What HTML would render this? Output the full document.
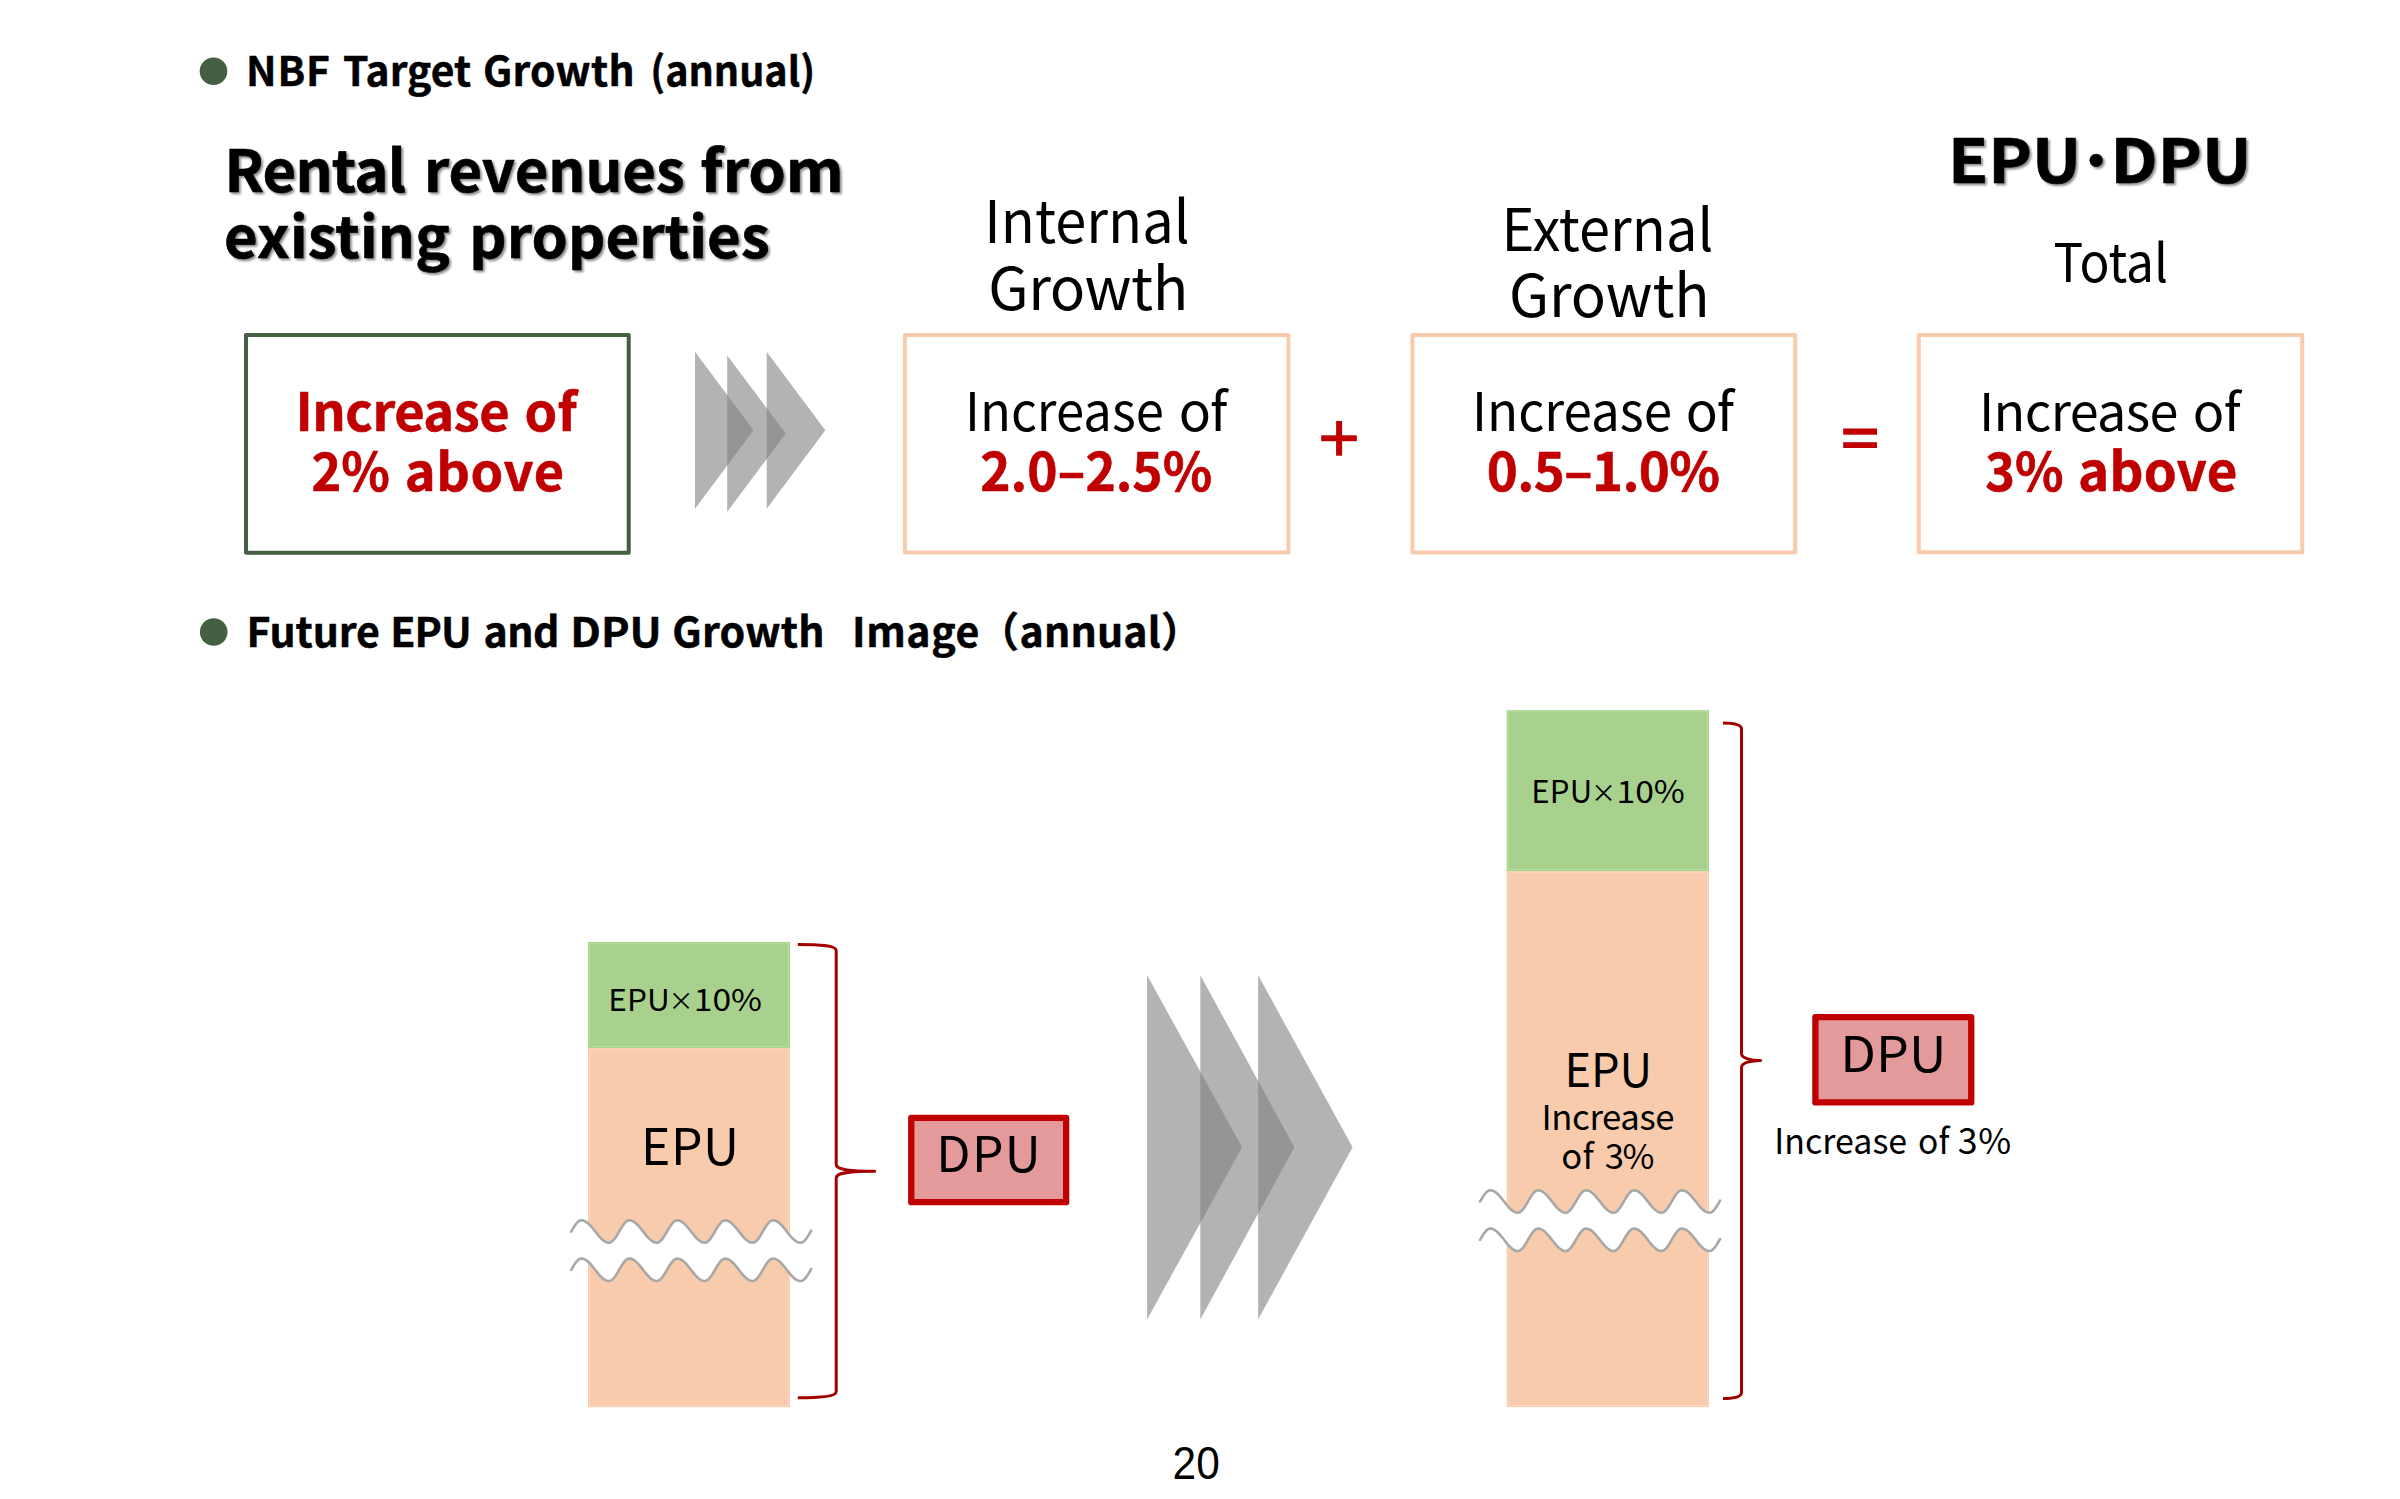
<!DOCTYPE html>
<html lang="en"><head><meta charset="utf-8"><title>NBF Target Growth</title>
<style>html,body{margin:0;padding:0;background:#fff;}body{width:2400px;height:1499px;overflow:hidden;}svg{display:block;}</style>
</head><body>
<svg width="2400" height="1499" viewBox="0 0 2400 1499" font-family="'Noto Sans CJK JP', 'Liberation Sans', sans-serif"><defs><filter id="sh" x="-5%" y="-20%" width="110%" height="150%"><feGaussianBlur in="SourceAlpha" stdDeviation="1.2"/><feOffset dx="2.4" dy="2.4" result="b"/><feComponentTransfer><feFuncA type="linear" slope="0.45"/></feComponentTransfer><feMerge><feMergeNode/><feMergeNode in="SourceGraphic"/></feMerge></filter></defs><circle cx="213.5" cy="71.3" r="13.8" fill="#445f41"/>
<circle cx="213.7" cy="632" r="13.8" fill="#445f41"/>
<rect x="246" y="335" width="382.7" height="217.7" fill="#fff" stroke="#445f41" stroke-width="4" stroke-linejoin="round"/>
<rect x="904.9" y="335" width="383.6" height="217.6" fill="#fff" stroke="#f8cbad" stroke-width="4" stroke-linejoin="round"/>
<rect x="1412.4" y="335" width="382.8" height="217.6" fill="#fff" stroke="#f8cbad" stroke-width="4" stroke-linejoin="round"/>
<rect x="1918.8" y="335" width="383.5" height="217.2" fill="#fff" stroke="#f8cbad" stroke-width="4" stroke-linejoin="round"/>
<g fill="#808080" fill-opacity="0.6"><polygon points="695,351.8 753.5,430.3 695,508.8"/><polygon points="727.2,355.4 785.7,433.6 727.2,511.8"/><polygon points="766.7,351.8 825.3,430.3 766.7,508.8"/></g>
<g fill="#c00000"><rect x="1321.2" y="435.3" width="35.6" height="5.9"/><rect x="1336.1" y="421" width="6" height="34.7"/><rect x="1843.2" y="428.5" width="33.8" height="6.2"/><rect x="1843.2" y="442.2" width="33.8" height="5.8"/></g>
<rect x="588" y="942" width="202" height="106" fill="#a9d18e"/><rect x="589.5" y="943.5" width="199" height="103" fill="none" stroke="#b4df9a" stroke-width="1.2"/>
<rect x="588" y="1048" width="202" height="359.2" fill="#f8cbad"/><rect x="589.5" y="1049.5" width="199" height="356.2" fill="none" stroke="#fbd6bb" stroke-width="1.2"/>
<rect x="1506.6" y="710.2" width="202.4" height="161" fill="#a9d18e"/><rect x="1508.1" y="711.7" width="199.4" height="158" fill="none" stroke="#b4df9a" stroke-width="1.2"/>
<rect x="1506.6" y="871.2" width="202.4" height="535.9" fill="#f8cbad"/><rect x="1508.1" y="872.7" width="199.4" height="532.9" fill="none" stroke="#fbd6bb" stroke-width="1.2"/>
<path d="M571.2,1231.59 L572.2,1229.86 L573.2,1228.17 L574.2,1226.56 L575.2,1225.07 L576.2,1223.74 L577.2,1222.58 L578.2,1221.65 L579.2,1220.94 L580.2,1220.49 L581.2,1220.31 L582.2,1220.35 L583.2,1220.53 L584.2,1220.86 L585.2,1221.33 L586.2,1221.93 L587.2,1222.65 L588.2,1223.49 L589.2,1224.43 L590.2,1225.46 L591.2,1226.57 L592.2,1227.75 L593.2,1228.97 L594.2,1230.23 L595.2,1231.5 L596.2,1232.77 L597.2,1234.03 L598.2,1235.25 L599.2,1236.43 L600.2,1237.54 L601.2,1238.57 L602.2,1239.51 L603.2,1240.35 L604.2,1241.07 L605.2,1241.67 L606.2,1242.14 L607.2,1242.47 L608.2,1242.65 L609.2,1242.69 L610.2,1242.51 L611.2,1242.06 L612.2,1241.35 L613.2,1240.42 L614.2,1239.26 L615.2,1237.93 L616.2,1236.44 L617.2,1234.83 L618.2,1233.14 L619.2,1231.41 L620.2,1229.69 L621.2,1228.01 L622.2,1226.41 L623.2,1224.93 L624.2,1223.61 L625.2,1222.48 L626.2,1221.56 L627.2,1220.89 L628.2,1220.46 L629.2,1220.3 L630.2,1220.36 L631.2,1220.56 L632.2,1220.9 L633.2,1221.39 L634.2,1222 L635.2,1222.73 L636.2,1223.58 L637.2,1224.53 L638.2,1225.57 L639.2,1226.69 L640.2,1227.87 L641.2,1229.1 L642.2,1230.35 L643.2,1231.63 L644.2,1232.9 L645.2,1234.15 L646.2,1235.37 L647.2,1236.54 L648.2,1237.64 L649.2,1238.67 L650.2,1239.6 L651.2,1240.42 L652.2,1241.14 L653.2,1241.72 L654.2,1242.18 L655.2,1242.49 L656.2,1242.66 L657.2,1242.69 L658.2,1242.47 L659.2,1242 L660.2,1241.27 L661.2,1240.31 L662.2,1239.14 L663.2,1237.79 L664.2,1236.28 L665.2,1234.66 L666.2,1232.97 L667.2,1231.24 L668.2,1229.52 L669.2,1227.84 L670.2,1226.25 L671.2,1224.79 L672.2,1223.49 L673.2,1222.38 L674.2,1221.49 L675.2,1220.83 L676.2,1220.43 L677.2,1220.3 L678.2,1220.37 L679.2,1220.59 L680.2,1220.95 L681.2,1221.44 L682.2,1222.07 L683.2,1222.81 L684.2,1223.67 L685.2,1224.63 L686.2,1225.68 L687.2,1226.81 L688.2,1227.99 L689.2,1229.22 L690.2,1230.48 L691.2,1231.75 L692.2,1233.03 L693.2,1234.28 L694.2,1235.49 L695.2,1236.65 L696.2,1237.75 L697.2,1238.76 L698.2,1239.69 L699.2,1240.5 L700.2,1241.2 L701.2,1241.77 L702.2,1242.21 L703.2,1242.51 L704.2,1242.67 L705.2,1242.68 L706.2,1242.44 L707.2,1241.94 L708.2,1241.19 L709.2,1240.2 L710.2,1239.01 L711.2,1237.64 L712.2,1236.12 L713.2,1234.5 L714.2,1232.8 L715.2,1231.07 L716.2,1229.35 L717.2,1227.68 L718.2,1226.1 L719.2,1224.65 L720.2,1223.37 L721.2,1222.28 L722.2,1221.41 L723.2,1220.78 L724.2,1220.41 L725.2,1220.3 L726.2,1220.39 L727.2,1220.62 L728.2,1220.99 L729.2,1221.5 L730.2,1222.13 L731.2,1222.89 L732.2,1223.76 L733.2,1224.73 L734.2,1225.79 L735.2,1226.92 L736.2,1228.11 L737.2,1229.35 L738.2,1230.61 L739.2,1231.88 L740.2,1233.15 L741.2,1234.4 L742.2,1235.61 L743.2,1236.77 L744.2,1237.85 L745.2,1238.86 L746.2,1239.77 L747.2,1240.58 L748.2,1241.26 L749.2,1241.82 L750.2,1242.25 L751.2,1242.54 L752.2,1242.68 L753.2,1242.67 L754.2,1242.4 L755.2,1241.87 L756.2,1241.1 L757.2,1240.09 L758.2,1238.88 L759.2,1237.5 L760.2,1235.97 L761.2,1234.33 L762.2,1232.62 L763.2,1230.89 L764.2,1229.18 L765.2,1227.52 L766.2,1225.95 L767.2,1224.52 L768.2,1223.25 L769.2,1222.18 L770.2,1221.34 L771.2,1220.73 L772.2,1220.39 L773.2,1220.3 L774.2,1220.4 L775.2,1220.65 L776.2,1221.03 L777.2,1221.56 L778.2,1222.21 L779.2,1222.98 L780.2,1223.86 L781.2,1224.83 L782.2,1225.9 L783.2,1227.04 L784.2,1228.23 L785.2,1229.47 L786.2,1230.74 L787.2,1232.01 L788.2,1233.28 L789.2,1234.52 L790.2,1235.73 L791.2,1236.88 L792.2,1237.96 L793.2,1238.96 L794.2,1239.86 L795.2,1240.65 L796.2,1241.32 L797.2,1241.87 L798.2,1242.28 L799.2,1242.56 L800.2,1242.69 L801.2,1242.65 L802.2,1242.36 L803.2,1241.81 L804.2,1241.01 L805.2,1239.98 L806.2,1238.75 L807.2,1237.35 L808.2,1235.81 L809.2,1234.16 L810.2,1232.45 L811.2,1230.72 L811.2,1269.02 L810.2,1270.75 L809.2,1272.46 L808.2,1274.11 L807.2,1275.65 L806.2,1277.05 L805.2,1278.28 L804.2,1279.31 L803.2,1280.11 L802.2,1280.66 L801.2,1280.95 L800.2,1280.99 L799.2,1280.86 L798.2,1280.58 L797.2,1280.17 L796.2,1279.62 L795.2,1278.95 L794.2,1278.16 L793.2,1277.26 L792.2,1276.26 L791.2,1275.18 L790.2,1274.03 L789.2,1272.82 L788.2,1271.58 L787.2,1270.31 L786.2,1269.04 L785.2,1267.77 L784.2,1266.53 L783.2,1265.34 L782.2,1264.2 L781.2,1263.13 L780.2,1262.16 L779.2,1261.28 L778.2,1260.51 L777.2,1259.86 L776.2,1259.33 L775.2,1258.95 L774.2,1258.7 L773.2,1258.6 L772.2,1258.69 L771.2,1259.03 L770.2,1259.64 L769.2,1260.48 L768.2,1261.55 L767.2,1262.82 L766.2,1264.25 L765.2,1265.82 L764.2,1267.48 L763.2,1269.19 L762.2,1270.92 L761.2,1272.63 L760.2,1274.27 L759.2,1275.8 L758.2,1277.18 L757.2,1278.39 L756.2,1279.4 L755.2,1280.17 L754.2,1280.7 L753.2,1280.97 L752.2,1280.98 L751.2,1280.84 L750.2,1280.55 L749.2,1280.12 L748.2,1279.56 L747.2,1278.88 L746.2,1278.07 L745.2,1277.16 L744.2,1276.15 L743.2,1275.07 L742.2,1273.91 L741.2,1272.7 L740.2,1271.45 L739.2,1270.18 L738.2,1268.91 L737.2,1267.65 L736.2,1266.41 L735.2,1265.22 L734.2,1264.09 L733.2,1263.03 L732.2,1262.06 L731.2,1261.19 L730.2,1260.43 L729.2,1259.8 L728.2,1259.29 L727.2,1258.92 L726.2,1258.69 L725.2,1258.6 L724.2,1258.71 L723.2,1259.08 L722.2,1259.71 L721.2,1260.58 L720.2,1261.67 L719.2,1262.95 L718.2,1264.4 L717.2,1265.98 L716.2,1267.65 L715.2,1269.37 L714.2,1271.1 L713.2,1272.8 L712.2,1274.42 L711.2,1275.94 L710.2,1277.31 L709.2,1278.5 L708.2,1279.49 L707.2,1280.24 L706.2,1280.74 L705.2,1280.98 L704.2,1280.97 L703.2,1280.81 L702.2,1280.51 L701.2,1280.07 L700.2,1279.5 L699.2,1278.8 L698.2,1277.99 L697.2,1277.06 L696.2,1276.05 L695.2,1274.95 L694.2,1273.79 L693.2,1272.58 L692.2,1271.33 L691.2,1270.05 L690.2,1268.78 L689.2,1267.52 L688.2,1266.29 L687.2,1265.11 L686.2,1263.98 L685.2,1262.93 L684.2,1261.97 L683.2,1261.11 L682.2,1260.37 L681.2,1259.74 L680.2,1259.25 L679.2,1258.89 L678.2,1258.67 L677.2,1258.6 L676.2,1258.73 L675.2,1259.13 L674.2,1259.79 L673.2,1260.68 L672.2,1261.79 L671.2,1263.09 L670.2,1264.55 L669.2,1266.14 L668.2,1267.82 L667.2,1269.54 L666.2,1271.27 L665.2,1272.96 L664.2,1274.58 L663.2,1276.09 L662.2,1277.44 L661.2,1278.61 L660.2,1279.57 L659.2,1280.3 L658.2,1280.77 L657.2,1280.99 L656.2,1280.96 L655.2,1280.79 L654.2,1280.48 L653.2,1280.02 L652.2,1279.44 L651.2,1278.72 L650.2,1277.9 L649.2,1276.97 L648.2,1275.94 L647.2,1274.84 L646.2,1273.67 L645.2,1272.45 L644.2,1271.2 L643.2,1269.93 L642.2,1268.65 L641.2,1267.4 L640.2,1266.17 L639.2,1264.99 L638.2,1263.87 L637.2,1262.83 L636.2,1261.88 L635.2,1261.03 L634.2,1260.3 L633.2,1259.69 L632.2,1259.2 L631.2,1258.86 L630.2,1258.66 L629.2,1258.6 L628.2,1258.76 L627.2,1259.19 L626.2,1259.86 L625.2,1260.78 L624.2,1261.91 L623.2,1263.23 L622.2,1264.71 L621.2,1266.31 L620.2,1267.99 L619.2,1269.71 L618.2,1271.44 L617.2,1273.13 L616.2,1274.74 L615.2,1276.23 L614.2,1277.56 L613.2,1278.72 L612.2,1279.65 L611.2,1280.36 L610.2,1280.81 L609.2,1280.99 L608.2,1280.95 L607.2,1280.77 L606.2,1280.44 L605.2,1279.97 L604.2,1279.37 L603.2,1278.65 L602.2,1277.81 L601.2,1276.87 L600.2,1275.84 L599.2,1274.73 L598.2,1273.55 L597.2,1272.33 L596.2,1271.07 L595.2,1269.8 L594.2,1268.53 L593.2,1267.27 L592.2,1266.05 L591.2,1264.87 L590.2,1263.76 L589.2,1262.73 L588.2,1261.79 L587.2,1260.95 L586.2,1260.23 L585.2,1259.63 L584.2,1259.16 L583.2,1258.83 L582.2,1258.65 L581.2,1258.61 L580.2,1258.79 L579.2,1259.24 L578.2,1259.95 L577.2,1260.88 L576.2,1262.04 L575.2,1263.37 L574.2,1264.86 L573.2,1266.47 L572.2,1268.16 L571.2,1269.89 Z" fill="#fff"/><path d="M571.2,1231.59 L572.2,1229.86 L573.2,1228.17 L574.2,1226.56 L575.2,1225.07 L576.2,1223.74 L577.2,1222.58 L578.2,1221.65 L579.2,1220.94 L580.2,1220.49 L581.2,1220.31 L582.2,1220.35 L583.2,1220.53 L584.2,1220.86 L585.2,1221.33 L586.2,1221.93 L587.2,1222.65 L588.2,1223.49 L589.2,1224.43 L590.2,1225.46 L591.2,1226.57 L592.2,1227.75 L593.2,1228.97 L594.2,1230.23 L595.2,1231.5 L596.2,1232.77 L597.2,1234.03 L598.2,1235.25 L599.2,1236.43 L600.2,1237.54 L601.2,1238.57 L602.2,1239.51 L603.2,1240.35 L604.2,1241.07 L605.2,1241.67 L606.2,1242.14 L607.2,1242.47 L608.2,1242.65 L609.2,1242.69 L610.2,1242.51 L611.2,1242.06 L612.2,1241.35 L613.2,1240.42 L614.2,1239.26 L615.2,1237.93 L616.2,1236.44 L617.2,1234.83 L618.2,1233.14 L619.2,1231.41 L620.2,1229.69 L621.2,1228.01 L622.2,1226.41 L623.2,1224.93 L624.2,1223.61 L625.2,1222.48 L626.2,1221.56 L627.2,1220.89 L628.2,1220.46 L629.2,1220.3 L630.2,1220.36 L631.2,1220.56 L632.2,1220.9 L633.2,1221.39 L634.2,1222 L635.2,1222.73 L636.2,1223.58 L637.2,1224.53 L638.2,1225.57 L639.2,1226.69 L640.2,1227.87 L641.2,1229.1 L642.2,1230.35 L643.2,1231.63 L644.2,1232.9 L645.2,1234.15 L646.2,1235.37 L647.2,1236.54 L648.2,1237.64 L649.2,1238.67 L650.2,1239.6 L651.2,1240.42 L652.2,1241.14 L653.2,1241.72 L654.2,1242.18 L655.2,1242.49 L656.2,1242.66 L657.2,1242.69 L658.2,1242.47 L659.2,1242 L660.2,1241.27 L661.2,1240.31 L662.2,1239.14 L663.2,1237.79 L664.2,1236.28 L665.2,1234.66 L666.2,1232.97 L667.2,1231.24 L668.2,1229.52 L669.2,1227.84 L670.2,1226.25 L671.2,1224.79 L672.2,1223.49 L673.2,1222.38 L674.2,1221.49 L675.2,1220.83 L676.2,1220.43 L677.2,1220.3 L678.2,1220.37 L679.2,1220.59 L680.2,1220.95 L681.2,1221.44 L682.2,1222.07 L683.2,1222.81 L684.2,1223.67 L685.2,1224.63 L686.2,1225.68 L687.2,1226.81 L688.2,1227.99 L689.2,1229.22 L690.2,1230.48 L691.2,1231.75 L692.2,1233.03 L693.2,1234.28 L694.2,1235.49 L695.2,1236.65 L696.2,1237.75 L697.2,1238.76 L698.2,1239.69 L699.2,1240.5 L700.2,1241.2 L701.2,1241.77 L702.2,1242.21 L703.2,1242.51 L704.2,1242.67 L705.2,1242.68 L706.2,1242.44 L707.2,1241.94 L708.2,1241.19 L709.2,1240.2 L710.2,1239.01 L711.2,1237.64 L712.2,1236.12 L713.2,1234.5 L714.2,1232.8 L715.2,1231.07 L716.2,1229.35 L717.2,1227.68 L718.2,1226.1 L719.2,1224.65 L720.2,1223.37 L721.2,1222.28 L722.2,1221.41 L723.2,1220.78 L724.2,1220.41 L725.2,1220.3 L726.2,1220.39 L727.2,1220.62 L728.2,1220.99 L729.2,1221.5 L730.2,1222.13 L731.2,1222.89 L732.2,1223.76 L733.2,1224.73 L734.2,1225.79 L735.2,1226.92 L736.2,1228.11 L737.2,1229.35 L738.2,1230.61 L739.2,1231.88 L740.2,1233.15 L741.2,1234.4 L742.2,1235.61 L743.2,1236.77 L744.2,1237.85 L745.2,1238.86 L746.2,1239.77 L747.2,1240.58 L748.2,1241.26 L749.2,1241.82 L750.2,1242.25 L751.2,1242.54 L752.2,1242.68 L753.2,1242.67 L754.2,1242.4 L755.2,1241.87 L756.2,1241.1 L757.2,1240.09 L758.2,1238.88 L759.2,1237.5 L760.2,1235.97 L761.2,1234.33 L762.2,1232.62 L763.2,1230.89 L764.2,1229.18 L765.2,1227.52 L766.2,1225.95 L767.2,1224.52 L768.2,1223.25 L769.2,1222.18 L770.2,1221.34 L771.2,1220.73 L772.2,1220.39 L773.2,1220.3 L774.2,1220.4 L775.2,1220.65 L776.2,1221.03 L777.2,1221.56 L778.2,1222.21 L779.2,1222.98 L780.2,1223.86 L781.2,1224.83 L782.2,1225.9 L783.2,1227.04 L784.2,1228.23 L785.2,1229.47 L786.2,1230.74 L787.2,1232.01 L788.2,1233.28 L789.2,1234.52 L790.2,1235.73 L791.2,1236.88 L792.2,1237.96 L793.2,1238.96 L794.2,1239.86 L795.2,1240.65 L796.2,1241.32 L797.2,1241.87 L798.2,1242.28 L799.2,1242.56 L800.2,1242.69 L801.2,1242.65 L802.2,1242.36 L803.2,1241.81 L804.2,1241.01 L805.2,1239.98 L806.2,1238.75 L807.2,1237.35 L808.2,1235.81 L809.2,1234.16 L810.2,1232.45 L811.2,1230.72" fill="none" stroke="#a8a8a8" stroke-width="2.6" stroke-linecap="round"/><path d="M571.2,1269.89 L572.2,1268.16 L573.2,1266.47 L574.2,1264.86 L575.2,1263.37 L576.2,1262.04 L577.2,1260.88 L578.2,1259.95 L579.2,1259.24 L580.2,1258.79 L581.2,1258.61 L582.2,1258.65 L583.2,1258.83 L584.2,1259.16 L585.2,1259.63 L586.2,1260.23 L587.2,1260.95 L588.2,1261.79 L589.2,1262.73 L590.2,1263.76 L591.2,1264.87 L592.2,1266.05 L593.2,1267.27 L594.2,1268.53 L595.2,1269.8 L596.2,1271.07 L597.2,1272.33 L598.2,1273.55 L599.2,1274.73 L600.2,1275.84 L601.2,1276.87 L602.2,1277.81 L603.2,1278.65 L604.2,1279.37 L605.2,1279.97 L606.2,1280.44 L607.2,1280.77 L608.2,1280.95 L609.2,1280.99 L610.2,1280.81 L611.2,1280.36 L612.2,1279.65 L613.2,1278.72 L614.2,1277.56 L615.2,1276.23 L616.2,1274.74 L617.2,1273.13 L618.2,1271.44 L619.2,1269.71 L620.2,1267.99 L621.2,1266.31 L622.2,1264.71 L623.2,1263.23 L624.2,1261.91 L625.2,1260.78 L626.2,1259.86 L627.2,1259.19 L628.2,1258.76 L629.2,1258.6 L630.2,1258.66 L631.2,1258.86 L632.2,1259.2 L633.2,1259.69 L634.2,1260.3 L635.2,1261.03 L636.2,1261.88 L637.2,1262.83 L638.2,1263.87 L639.2,1264.99 L640.2,1266.17 L641.2,1267.4 L642.2,1268.65 L643.2,1269.93 L644.2,1271.2 L645.2,1272.45 L646.2,1273.67 L647.2,1274.84 L648.2,1275.94 L649.2,1276.97 L650.2,1277.9 L651.2,1278.72 L652.2,1279.44 L653.2,1280.02 L654.2,1280.48 L655.2,1280.79 L656.2,1280.96 L657.2,1280.99 L658.2,1280.77 L659.2,1280.3 L660.2,1279.57 L661.2,1278.61 L662.2,1277.44 L663.2,1276.09 L664.2,1274.58 L665.2,1272.96 L666.2,1271.27 L667.2,1269.54 L668.2,1267.82 L669.2,1266.14 L670.2,1264.55 L671.2,1263.09 L672.2,1261.79 L673.2,1260.68 L674.2,1259.79 L675.2,1259.13 L676.2,1258.73 L677.2,1258.6 L678.2,1258.67 L679.2,1258.89 L680.2,1259.25 L681.2,1259.74 L682.2,1260.37 L683.2,1261.11 L684.2,1261.97 L685.2,1262.93 L686.2,1263.98 L687.2,1265.11 L688.2,1266.29 L689.2,1267.52 L690.2,1268.78 L691.2,1270.05 L692.2,1271.33 L693.2,1272.58 L694.2,1273.79 L695.2,1274.95 L696.2,1276.05 L697.2,1277.06 L698.2,1277.99 L699.2,1278.8 L700.2,1279.5 L701.2,1280.07 L702.2,1280.51 L703.2,1280.81 L704.2,1280.97 L705.2,1280.98 L706.2,1280.74 L707.2,1280.24 L708.2,1279.49 L709.2,1278.5 L710.2,1277.31 L711.2,1275.94 L712.2,1274.42 L713.2,1272.8 L714.2,1271.1 L715.2,1269.37 L716.2,1267.65 L717.2,1265.98 L718.2,1264.4 L719.2,1262.95 L720.2,1261.67 L721.2,1260.58 L722.2,1259.71 L723.2,1259.08 L724.2,1258.71 L725.2,1258.6 L726.2,1258.69 L727.2,1258.92 L728.2,1259.29 L729.2,1259.8 L730.2,1260.43 L731.2,1261.19 L732.2,1262.06 L733.2,1263.03 L734.2,1264.09 L735.2,1265.22 L736.2,1266.41 L737.2,1267.65 L738.2,1268.91 L739.2,1270.18 L740.2,1271.45 L741.2,1272.7 L742.2,1273.91 L743.2,1275.07 L744.2,1276.15 L745.2,1277.16 L746.2,1278.07 L747.2,1278.88 L748.2,1279.56 L749.2,1280.12 L750.2,1280.55 L751.2,1280.84 L752.2,1280.98 L753.2,1280.97 L754.2,1280.7 L755.2,1280.17 L756.2,1279.4 L757.2,1278.39 L758.2,1277.18 L759.2,1275.8 L760.2,1274.27 L761.2,1272.63 L762.2,1270.92 L763.2,1269.19 L764.2,1267.48 L765.2,1265.82 L766.2,1264.25 L767.2,1262.82 L768.2,1261.55 L769.2,1260.48 L770.2,1259.64 L771.2,1259.03 L772.2,1258.69 L773.2,1258.6 L774.2,1258.7 L775.2,1258.95 L776.2,1259.33 L777.2,1259.86 L778.2,1260.51 L779.2,1261.28 L780.2,1262.16 L781.2,1263.13 L782.2,1264.2 L783.2,1265.34 L784.2,1266.53 L785.2,1267.77 L786.2,1269.04 L787.2,1270.31 L788.2,1271.58 L789.2,1272.82 L790.2,1274.03 L791.2,1275.18 L792.2,1276.26 L793.2,1277.26 L794.2,1278.16 L795.2,1278.95 L796.2,1279.62 L797.2,1280.17 L798.2,1280.58 L799.2,1280.86 L800.2,1280.99 L801.2,1280.95 L802.2,1280.66 L803.2,1280.11 L804.2,1279.31 L805.2,1278.28 L806.2,1277.05 L807.2,1275.65 L808.2,1274.11 L809.2,1272.46 L810.2,1270.75 L811.2,1269.02" fill="none" stroke="#a8a8a8" stroke-width="2.6" stroke-linecap="round"/>
<path d="M1480.05,1201.59 L1481.05,1199.86 L1482.05,1198.17 L1483.05,1196.56 L1484.05,1195.07 L1485.05,1193.74 L1486.05,1192.58 L1487.05,1191.65 L1488.05,1190.94 L1489.05,1190.49 L1490.05,1190.31 L1491.05,1190.35 L1492.05,1190.53 L1493.05,1190.86 L1494.05,1191.33 L1495.05,1191.93 L1496.05,1192.65 L1497.05,1193.49 L1498.05,1194.43 L1499.05,1195.46 L1500.05,1196.57 L1501.05,1197.75 L1502.05,1198.97 L1503.05,1200.23 L1504.05,1201.5 L1505.05,1202.77 L1506.05,1204.03 L1507.05,1205.25 L1508.05,1206.43 L1509.05,1207.54 L1510.05,1208.57 L1511.05,1209.51 L1512.05,1210.35 L1513.05,1211.07 L1514.05,1211.67 L1515.05,1212.14 L1516.05,1212.47 L1517.05,1212.65 L1518.05,1212.69 L1519.05,1212.51 L1520.05,1212.06 L1521.05,1211.35 L1522.05,1210.42 L1523.05,1209.26 L1524.05,1207.93 L1525.05,1206.44 L1526.05,1204.83 L1527.05,1203.14 L1528.05,1201.41 L1529.05,1199.69 L1530.05,1198.01 L1531.05,1196.41 L1532.05,1194.93 L1533.05,1193.61 L1534.05,1192.48 L1535.05,1191.56 L1536.05,1190.89 L1537.05,1190.46 L1538.05,1190.3 L1539.05,1190.36 L1540.05,1190.56 L1541.05,1190.9 L1542.05,1191.39 L1543.05,1192 L1544.05,1192.73 L1545.05,1193.58 L1546.05,1194.53 L1547.05,1195.57 L1548.05,1196.69 L1549.05,1197.87 L1550.05,1199.1 L1551.05,1200.35 L1552.05,1201.63 L1553.05,1202.9 L1554.05,1204.15 L1555.05,1205.37 L1556.05,1206.54 L1557.05,1207.64 L1558.05,1208.67 L1559.05,1209.6 L1560.05,1210.42 L1561.05,1211.14 L1562.05,1211.72 L1563.05,1212.18 L1564.05,1212.49 L1565.05,1212.66 L1566.05,1212.69 L1567.05,1212.47 L1568.05,1212 L1569.05,1211.27 L1570.05,1210.31 L1571.05,1209.14 L1572.05,1207.79 L1573.05,1206.28 L1574.05,1204.66 L1575.05,1202.97 L1576.05,1201.24 L1577.05,1199.52 L1578.05,1197.84 L1579.05,1196.25 L1580.05,1194.79 L1581.05,1193.49 L1582.05,1192.38 L1583.05,1191.49 L1584.05,1190.83 L1585.05,1190.43 L1586.05,1190.3 L1587.05,1190.37 L1588.05,1190.59 L1589.05,1190.95 L1590.05,1191.44 L1591.05,1192.07 L1592.05,1192.81 L1593.05,1193.67 L1594.05,1194.63 L1595.05,1195.68 L1596.05,1196.81 L1597.05,1197.99 L1598.05,1199.22 L1599.05,1200.48 L1600.05,1201.75 L1601.05,1203.03 L1602.05,1204.28 L1603.05,1205.49 L1604.05,1206.65 L1605.05,1207.75 L1606.05,1208.76 L1607.05,1209.69 L1608.05,1210.5 L1609.05,1211.2 L1610.05,1211.77 L1611.05,1212.21 L1612.05,1212.51 L1613.05,1212.67 L1614.05,1212.68 L1615.05,1212.44 L1616.05,1211.94 L1617.05,1211.19 L1618.05,1210.2 L1619.05,1209.01 L1620.05,1207.64 L1621.05,1206.12 L1622.05,1204.5 L1623.05,1202.8 L1624.05,1201.07 L1625.05,1199.35 L1626.05,1197.68 L1627.05,1196.1 L1628.05,1194.65 L1629.05,1193.37 L1630.05,1192.28 L1631.05,1191.41 L1632.05,1190.78 L1633.05,1190.41 L1634.05,1190.3 L1635.05,1190.39 L1636.05,1190.62 L1637.05,1190.99 L1638.05,1191.5 L1639.05,1192.13 L1640.05,1192.89 L1641.05,1193.76 L1642.05,1194.73 L1643.05,1195.79 L1644.05,1196.92 L1645.05,1198.11 L1646.05,1199.35 L1647.05,1200.61 L1648.05,1201.88 L1649.05,1203.15 L1650.05,1204.4 L1651.05,1205.61 L1652.05,1206.77 L1653.05,1207.85 L1654.05,1208.86 L1655.05,1209.77 L1656.05,1210.58 L1657.05,1211.26 L1658.05,1211.82 L1659.05,1212.25 L1660.05,1212.54 L1661.05,1212.68 L1662.05,1212.67 L1663.05,1212.4 L1664.05,1211.87 L1665.05,1211.1 L1666.05,1210.09 L1667.05,1208.88 L1668.05,1207.5 L1669.05,1205.97 L1670.05,1204.33 L1671.05,1202.62 L1672.05,1200.89 L1673.05,1199.18 L1674.05,1197.52 L1675.05,1195.95 L1676.05,1194.52 L1677.05,1193.25 L1678.05,1192.18 L1679.05,1191.34 L1680.05,1190.73 L1681.05,1190.39 L1682.05,1190.3 L1683.05,1190.4 L1684.05,1190.65 L1685.05,1191.03 L1686.05,1191.56 L1687.05,1192.21 L1688.05,1192.98 L1689.05,1193.86 L1690.05,1194.83 L1691.05,1195.9 L1692.05,1197.04 L1693.05,1198.23 L1694.05,1199.47 L1695.05,1200.74 L1696.05,1202.01 L1697.05,1203.28 L1698.05,1204.52 L1699.05,1205.73 L1700.05,1206.88 L1701.05,1207.96 L1702.05,1208.96 L1703.05,1209.86 L1704.05,1210.65 L1705.05,1211.32 L1706.05,1211.87 L1707.05,1212.28 L1708.05,1212.56 L1709.05,1212.69 L1710.05,1212.65 L1711.05,1212.36 L1712.05,1211.81 L1713.05,1211.01 L1714.05,1209.98 L1715.05,1208.75 L1716.05,1207.35 L1717.05,1205.81 L1718.05,1204.16 L1719.05,1202.45 L1720.05,1200.72 L1720.05,1239.02 L1719.05,1240.75 L1718.05,1242.46 L1717.05,1244.11 L1716.05,1245.65 L1715.05,1247.05 L1714.05,1248.28 L1713.05,1249.31 L1712.05,1250.11 L1711.05,1250.66 L1710.05,1250.95 L1709.05,1250.99 L1708.05,1250.86 L1707.05,1250.58 L1706.05,1250.17 L1705.05,1249.62 L1704.05,1248.95 L1703.05,1248.16 L1702.05,1247.26 L1701.05,1246.26 L1700.05,1245.18 L1699.05,1244.03 L1698.05,1242.82 L1697.05,1241.58 L1696.05,1240.31 L1695.05,1239.04 L1694.05,1237.77 L1693.05,1236.53 L1692.05,1235.34 L1691.05,1234.2 L1690.05,1233.13 L1689.05,1232.16 L1688.05,1231.28 L1687.05,1230.51 L1686.05,1229.86 L1685.05,1229.33 L1684.05,1228.95 L1683.05,1228.7 L1682.05,1228.6 L1681.05,1228.69 L1680.05,1229.03 L1679.05,1229.64 L1678.05,1230.48 L1677.05,1231.55 L1676.05,1232.82 L1675.05,1234.25 L1674.05,1235.82 L1673.05,1237.48 L1672.05,1239.19 L1671.05,1240.92 L1670.05,1242.63 L1669.05,1244.27 L1668.05,1245.8 L1667.05,1247.18 L1666.05,1248.39 L1665.05,1249.4 L1664.05,1250.17 L1663.05,1250.7 L1662.05,1250.97 L1661.05,1250.98 L1660.05,1250.84 L1659.05,1250.55 L1658.05,1250.12 L1657.05,1249.56 L1656.05,1248.88 L1655.05,1248.07 L1654.05,1247.16 L1653.05,1246.15 L1652.05,1245.07 L1651.05,1243.91 L1650.05,1242.7 L1649.05,1241.45 L1648.05,1240.18 L1647.05,1238.91 L1646.05,1237.65 L1645.05,1236.41 L1644.05,1235.22 L1643.05,1234.09 L1642.05,1233.03 L1641.05,1232.06 L1640.05,1231.19 L1639.05,1230.43 L1638.05,1229.8 L1637.05,1229.29 L1636.05,1228.92 L1635.05,1228.69 L1634.05,1228.6 L1633.05,1228.71 L1632.05,1229.08 L1631.05,1229.71 L1630.05,1230.58 L1629.05,1231.67 L1628.05,1232.95 L1627.05,1234.4 L1626.05,1235.98 L1625.05,1237.65 L1624.05,1239.37 L1623.05,1241.1 L1622.05,1242.8 L1621.05,1244.42 L1620.05,1245.94 L1619.05,1247.31 L1618.05,1248.5 L1617.05,1249.49 L1616.05,1250.24 L1615.05,1250.74 L1614.05,1250.98 L1613.05,1250.97 L1612.05,1250.81 L1611.05,1250.51 L1610.05,1250.07 L1609.05,1249.5 L1608.05,1248.8 L1607.05,1247.99 L1606.05,1247.06 L1605.05,1246.05 L1604.05,1244.95 L1603.05,1243.79 L1602.05,1242.58 L1601.05,1241.33 L1600.05,1240.05 L1599.05,1238.78 L1598.05,1237.52 L1597.05,1236.29 L1596.05,1235.11 L1595.05,1233.98 L1594.05,1232.93 L1593.05,1231.97 L1592.05,1231.11 L1591.05,1230.37 L1590.05,1229.74 L1589.05,1229.25 L1588.05,1228.89 L1587.05,1228.67 L1586.05,1228.6 L1585.05,1228.73 L1584.05,1229.13 L1583.05,1229.79 L1582.05,1230.68 L1581.05,1231.79 L1580.05,1233.09 L1579.05,1234.55 L1578.05,1236.14 L1577.05,1237.82 L1576.05,1239.54 L1575.05,1241.27 L1574.05,1242.96 L1573.05,1244.58 L1572.05,1246.09 L1571.05,1247.44 L1570.05,1248.61 L1569.05,1249.57 L1568.05,1250.3 L1567.05,1250.77 L1566.05,1250.99 L1565.05,1250.96 L1564.05,1250.79 L1563.05,1250.48 L1562.05,1250.02 L1561.05,1249.44 L1560.05,1248.72 L1559.05,1247.9 L1558.05,1246.97 L1557.05,1245.94 L1556.05,1244.84 L1555.05,1243.67 L1554.05,1242.45 L1553.05,1241.2 L1552.05,1239.93 L1551.05,1238.65 L1550.05,1237.4 L1549.05,1236.17 L1548.05,1234.99 L1547.05,1233.87 L1546.05,1232.83 L1545.05,1231.88 L1544.05,1231.03 L1543.05,1230.3 L1542.05,1229.69 L1541.05,1229.2 L1540.05,1228.86 L1539.05,1228.66 L1538.05,1228.6 L1537.05,1228.76 L1536.05,1229.19 L1535.05,1229.86 L1534.05,1230.78 L1533.05,1231.91 L1532.05,1233.23 L1531.05,1234.71 L1530.05,1236.31 L1529.05,1237.99 L1528.05,1239.71 L1527.05,1241.44 L1526.05,1243.13 L1525.05,1244.74 L1524.05,1246.23 L1523.05,1247.56 L1522.05,1248.72 L1521.05,1249.65 L1520.05,1250.36 L1519.05,1250.81 L1518.05,1250.99 L1517.05,1250.95 L1516.05,1250.77 L1515.05,1250.44 L1514.05,1249.97 L1513.05,1249.37 L1512.05,1248.65 L1511.05,1247.81 L1510.05,1246.87 L1509.05,1245.84 L1508.05,1244.73 L1507.05,1243.55 L1506.05,1242.33 L1505.05,1241.07 L1504.05,1239.8 L1503.05,1238.53 L1502.05,1237.27 L1501.05,1236.05 L1500.05,1234.87 L1499.05,1233.76 L1498.05,1232.73 L1497.05,1231.79 L1496.05,1230.95 L1495.05,1230.23 L1494.05,1229.63 L1493.05,1229.16 L1492.05,1228.83 L1491.05,1228.65 L1490.05,1228.61 L1489.05,1228.79 L1488.05,1229.24 L1487.05,1229.95 L1486.05,1230.88 L1485.05,1232.04 L1484.05,1233.37 L1483.05,1234.86 L1482.05,1236.47 L1481.05,1238.16 L1480.05,1239.89 Z" fill="#fff"/><path d="M1480.05,1201.59 L1481.05,1199.86 L1482.05,1198.17 L1483.05,1196.56 L1484.05,1195.07 L1485.05,1193.74 L1486.05,1192.58 L1487.05,1191.65 L1488.05,1190.94 L1489.05,1190.49 L1490.05,1190.31 L1491.05,1190.35 L1492.05,1190.53 L1493.05,1190.86 L1494.05,1191.33 L1495.05,1191.93 L1496.05,1192.65 L1497.05,1193.49 L1498.05,1194.43 L1499.05,1195.46 L1500.05,1196.57 L1501.05,1197.75 L1502.05,1198.97 L1503.05,1200.23 L1504.05,1201.5 L1505.05,1202.77 L1506.05,1204.03 L1507.05,1205.25 L1508.05,1206.43 L1509.05,1207.54 L1510.05,1208.57 L1511.05,1209.51 L1512.05,1210.35 L1513.05,1211.07 L1514.05,1211.67 L1515.05,1212.14 L1516.05,1212.47 L1517.05,1212.65 L1518.05,1212.69 L1519.05,1212.51 L1520.05,1212.06 L1521.05,1211.35 L1522.05,1210.42 L1523.05,1209.26 L1524.05,1207.93 L1525.05,1206.44 L1526.05,1204.83 L1527.05,1203.14 L1528.05,1201.41 L1529.05,1199.69 L1530.05,1198.01 L1531.05,1196.41 L1532.05,1194.93 L1533.05,1193.61 L1534.05,1192.48 L1535.05,1191.56 L1536.05,1190.89 L1537.05,1190.46 L1538.05,1190.3 L1539.05,1190.36 L1540.05,1190.56 L1541.05,1190.9 L1542.05,1191.39 L1543.05,1192 L1544.05,1192.73 L1545.05,1193.58 L1546.05,1194.53 L1547.05,1195.57 L1548.05,1196.69 L1549.05,1197.87 L1550.05,1199.1 L1551.05,1200.35 L1552.05,1201.63 L1553.05,1202.9 L1554.05,1204.15 L1555.05,1205.37 L1556.05,1206.54 L1557.05,1207.64 L1558.05,1208.67 L1559.05,1209.6 L1560.05,1210.42 L1561.05,1211.14 L1562.05,1211.72 L1563.05,1212.18 L1564.05,1212.49 L1565.05,1212.66 L1566.05,1212.69 L1567.05,1212.47 L1568.05,1212 L1569.05,1211.27 L1570.05,1210.31 L1571.05,1209.14 L1572.05,1207.79 L1573.05,1206.28 L1574.05,1204.66 L1575.05,1202.97 L1576.05,1201.24 L1577.05,1199.52 L1578.05,1197.84 L1579.05,1196.25 L1580.05,1194.79 L1581.05,1193.49 L1582.05,1192.38 L1583.05,1191.49 L1584.05,1190.83 L1585.05,1190.43 L1586.05,1190.3 L1587.05,1190.37 L1588.05,1190.59 L1589.05,1190.95 L1590.05,1191.44 L1591.05,1192.07 L1592.05,1192.81 L1593.05,1193.67 L1594.05,1194.63 L1595.05,1195.68 L1596.05,1196.81 L1597.05,1197.99 L1598.05,1199.22 L1599.05,1200.48 L1600.05,1201.75 L1601.05,1203.03 L1602.05,1204.28 L1603.05,1205.49 L1604.05,1206.65 L1605.05,1207.75 L1606.05,1208.76 L1607.05,1209.69 L1608.05,1210.5 L1609.05,1211.2 L1610.05,1211.77 L1611.05,1212.21 L1612.05,1212.51 L1613.05,1212.67 L1614.05,1212.68 L1615.05,1212.44 L1616.05,1211.94 L1617.05,1211.19 L1618.05,1210.2 L1619.05,1209.01 L1620.05,1207.64 L1621.05,1206.12 L1622.05,1204.5 L1623.05,1202.8 L1624.05,1201.07 L1625.05,1199.35 L1626.05,1197.68 L1627.05,1196.1 L1628.05,1194.65 L1629.05,1193.37 L1630.05,1192.28 L1631.05,1191.41 L1632.05,1190.78 L1633.05,1190.41 L1634.05,1190.3 L1635.05,1190.39 L1636.05,1190.62 L1637.05,1190.99 L1638.05,1191.5 L1639.05,1192.13 L1640.05,1192.89 L1641.05,1193.76 L1642.05,1194.73 L1643.05,1195.79 L1644.05,1196.92 L1645.05,1198.11 L1646.05,1199.35 L1647.05,1200.61 L1648.05,1201.88 L1649.05,1203.15 L1650.05,1204.4 L1651.05,1205.61 L1652.05,1206.77 L1653.05,1207.85 L1654.05,1208.86 L1655.05,1209.77 L1656.05,1210.58 L1657.05,1211.26 L1658.05,1211.82 L1659.05,1212.25 L1660.05,1212.54 L1661.05,1212.68 L1662.05,1212.67 L1663.05,1212.4 L1664.05,1211.87 L1665.05,1211.1 L1666.05,1210.09 L1667.05,1208.88 L1668.05,1207.5 L1669.05,1205.97 L1670.05,1204.33 L1671.05,1202.62 L1672.05,1200.89 L1673.05,1199.18 L1674.05,1197.52 L1675.05,1195.95 L1676.05,1194.52 L1677.05,1193.25 L1678.05,1192.18 L1679.05,1191.34 L1680.05,1190.73 L1681.05,1190.39 L1682.05,1190.3 L1683.05,1190.4 L1684.05,1190.65 L1685.05,1191.03 L1686.05,1191.56 L1687.05,1192.21 L1688.05,1192.98 L1689.05,1193.86 L1690.05,1194.83 L1691.05,1195.9 L1692.05,1197.04 L1693.05,1198.23 L1694.05,1199.47 L1695.05,1200.74 L1696.05,1202.01 L1697.05,1203.28 L1698.05,1204.52 L1699.05,1205.73 L1700.05,1206.88 L1701.05,1207.96 L1702.05,1208.96 L1703.05,1209.86 L1704.05,1210.65 L1705.05,1211.32 L1706.05,1211.87 L1707.05,1212.28 L1708.05,1212.56 L1709.05,1212.69 L1710.05,1212.65 L1711.05,1212.36 L1712.05,1211.81 L1713.05,1211.01 L1714.05,1209.98 L1715.05,1208.75 L1716.05,1207.35 L1717.05,1205.81 L1718.05,1204.16 L1719.05,1202.45 L1720.05,1200.72" fill="none" stroke="#a8a8a8" stroke-width="2.6" stroke-linecap="round"/><path d="M1480.05,1239.89 L1481.05,1238.16 L1482.05,1236.47 L1483.05,1234.86 L1484.05,1233.37 L1485.05,1232.04 L1486.05,1230.88 L1487.05,1229.95 L1488.05,1229.24 L1489.05,1228.79 L1490.05,1228.61 L1491.05,1228.65 L1492.05,1228.83 L1493.05,1229.16 L1494.05,1229.63 L1495.05,1230.23 L1496.05,1230.95 L1497.05,1231.79 L1498.05,1232.73 L1499.05,1233.76 L1500.05,1234.87 L1501.05,1236.05 L1502.05,1237.27 L1503.05,1238.53 L1504.05,1239.8 L1505.05,1241.07 L1506.05,1242.33 L1507.05,1243.55 L1508.05,1244.73 L1509.05,1245.84 L1510.05,1246.87 L1511.05,1247.81 L1512.05,1248.65 L1513.05,1249.37 L1514.05,1249.97 L1515.05,1250.44 L1516.05,1250.77 L1517.05,1250.95 L1518.05,1250.99 L1519.05,1250.81 L1520.05,1250.36 L1521.05,1249.65 L1522.05,1248.72 L1523.05,1247.56 L1524.05,1246.23 L1525.05,1244.74 L1526.05,1243.13 L1527.05,1241.44 L1528.05,1239.71 L1529.05,1237.99 L1530.05,1236.31 L1531.05,1234.71 L1532.05,1233.23 L1533.05,1231.91 L1534.05,1230.78 L1535.05,1229.86 L1536.05,1229.19 L1537.05,1228.76 L1538.05,1228.6 L1539.05,1228.66 L1540.05,1228.86 L1541.05,1229.2 L1542.05,1229.69 L1543.05,1230.3 L1544.05,1231.03 L1545.05,1231.88 L1546.05,1232.83 L1547.05,1233.87 L1548.05,1234.99 L1549.05,1236.17 L1550.05,1237.4 L1551.05,1238.65 L1552.05,1239.93 L1553.05,1241.2 L1554.05,1242.45 L1555.05,1243.67 L1556.05,1244.84 L1557.05,1245.94 L1558.05,1246.97 L1559.05,1247.9 L1560.05,1248.72 L1561.05,1249.44 L1562.05,1250.02 L1563.05,1250.48 L1564.05,1250.79 L1565.05,1250.96 L1566.05,1250.99 L1567.05,1250.77 L1568.05,1250.3 L1569.05,1249.57 L1570.05,1248.61 L1571.05,1247.44 L1572.05,1246.09 L1573.05,1244.58 L1574.05,1242.96 L1575.05,1241.27 L1576.05,1239.54 L1577.05,1237.82 L1578.05,1236.14 L1579.05,1234.55 L1580.05,1233.09 L1581.05,1231.79 L1582.05,1230.68 L1583.05,1229.79 L1584.05,1229.13 L1585.05,1228.73 L1586.05,1228.6 L1587.05,1228.67 L1588.05,1228.89 L1589.05,1229.25 L1590.05,1229.74 L1591.05,1230.37 L1592.05,1231.11 L1593.05,1231.97 L1594.05,1232.93 L1595.05,1233.98 L1596.05,1235.11 L1597.05,1236.29 L1598.05,1237.52 L1599.05,1238.78 L1600.05,1240.05 L1601.05,1241.33 L1602.05,1242.58 L1603.05,1243.79 L1604.05,1244.95 L1605.05,1246.05 L1606.05,1247.06 L1607.05,1247.99 L1608.05,1248.8 L1609.05,1249.5 L1610.05,1250.07 L1611.05,1250.51 L1612.05,1250.81 L1613.05,1250.97 L1614.05,1250.98 L1615.05,1250.74 L1616.05,1250.24 L1617.05,1249.49 L1618.05,1248.5 L1619.05,1247.31 L1620.05,1245.94 L1621.05,1244.42 L1622.05,1242.8 L1623.05,1241.1 L1624.05,1239.37 L1625.05,1237.65 L1626.05,1235.98 L1627.05,1234.4 L1628.05,1232.95 L1629.05,1231.67 L1630.05,1230.58 L1631.05,1229.71 L1632.05,1229.08 L1633.05,1228.71 L1634.05,1228.6 L1635.05,1228.69 L1636.05,1228.92 L1637.05,1229.29 L1638.05,1229.8 L1639.05,1230.43 L1640.05,1231.19 L1641.05,1232.06 L1642.05,1233.03 L1643.05,1234.09 L1644.05,1235.22 L1645.05,1236.41 L1646.05,1237.65 L1647.05,1238.91 L1648.05,1240.18 L1649.05,1241.45 L1650.05,1242.7 L1651.05,1243.91 L1652.05,1245.07 L1653.05,1246.15 L1654.05,1247.16 L1655.05,1248.07 L1656.05,1248.88 L1657.05,1249.56 L1658.05,1250.12 L1659.05,1250.55 L1660.05,1250.84 L1661.05,1250.98 L1662.05,1250.97 L1663.05,1250.7 L1664.05,1250.17 L1665.05,1249.4 L1666.05,1248.39 L1667.05,1247.18 L1668.05,1245.8 L1669.05,1244.27 L1670.05,1242.63 L1671.05,1240.92 L1672.05,1239.19 L1673.05,1237.48 L1674.05,1235.82 L1675.05,1234.25 L1676.05,1232.82 L1677.05,1231.55 L1678.05,1230.48 L1679.05,1229.64 L1680.05,1229.03 L1681.05,1228.69 L1682.05,1228.6 L1683.05,1228.7 L1684.05,1228.95 L1685.05,1229.33 L1686.05,1229.86 L1687.05,1230.51 L1688.05,1231.28 L1689.05,1232.16 L1690.05,1233.13 L1691.05,1234.2 L1692.05,1235.34 L1693.05,1236.53 L1694.05,1237.77 L1695.05,1239.04 L1696.05,1240.31 L1697.05,1241.58 L1698.05,1242.82 L1699.05,1244.03 L1700.05,1245.18 L1701.05,1246.26 L1702.05,1247.26 L1703.05,1248.16 L1704.05,1248.95 L1705.05,1249.62 L1706.05,1250.17 L1707.05,1250.58 L1708.05,1250.86 L1709.05,1250.99 L1710.05,1250.95 L1711.05,1250.66 L1712.05,1250.11 L1713.05,1249.31 L1714.05,1248.28 L1715.05,1247.05 L1716.05,1245.65 L1717.05,1244.11 L1718.05,1242.46 L1719.05,1240.75 L1720.05,1239.02" fill="none" stroke="#a8a8a8" stroke-width="2.6" stroke-linecap="round"/>
<path d="M797.8,944.4 C818.92,944.4 836.2,945.6 836.2,950.4 L836.2,1164.2 C836.2,1169.2 846.2,1171.2 874.7,1171.2 C846.2,1171.2 836.2,1173.2 836.2,1178.2 L836.2,1391.8 C836.2,1396.6 818.92,1397.8 797.8,1397.8" fill="none" stroke="#a30000" stroke-width="3" stroke-linecap="butt" stroke-linejoin="round"/>
<path d="M1723,723 C1733.17,723 1741.5,724.2 1741.5,729 L1741.5,1053.5 C1741.5,1058.5 1751.5,1060.5 1760.6,1060.5 C1751.5,1060.5 1741.5,1062.5 1741.5,1067.5 L1741.5,1392.6 C1741.5,1397.4 1733.17,1398.6 1723,1398.6" fill="none" stroke="#a30000" stroke-width="3" stroke-linecap="butt" stroke-linejoin="round"/>
<rect x="911.25" y="1117.85" width="154.9" height="84.3" fill="#e49a9a" stroke="#c00000" stroke-width="6.3" stroke-linejoin="round"/>
<rect x="1815.4" y="1017.15" width="155.85" height="85.3" fill="#e49a9a" stroke="#c00000" stroke-width="6.3" stroke-linejoin="round"/>
<g fill="#808080" fill-opacity="0.6"><polygon points="1147.1,975.2 1242.1,1147.3 1147.1,1319.4"/><polygon points="1200.3,975.2 1294.4,1147.3 1200.3,1319.4"/><polygon points="1258.1,975.2 1352.6,1147.3 1258.1,1319.4"/></g>
<text y="85.7" font-size="40.81" font-weight="700" fill="#000" stroke="#000" stroke-width="0.45" stroke-linejoin="round"><tspan x="246.1" y="85.7" letter-spacing="0.8">NBF</tspan> <tspan x="342.9" y="85.7" letter-spacing="0.1">Target</tspan> <tspan x="483.0" y="85.7" letter-spacing="0.26">Growth</tspan> <tspan x="650.19" y="85.7" textLength="164.93" lengthAdjust="spacingAndGlyphs">(annual)</tspan></text>
<text y="191.6" font-size="57.97" font-weight="700" fill="#000" filter="url(#sh)" stroke="#000" stroke-width="0.64" stroke-linejoin="round"><tspan x="224.4" y="191.6" letter-spacing="-0.74">Rental</tspan> <tspan x="423.9" y="191.6" letter-spacing="-0.057">revenues</tspan> <tspan x="700.33" y="191.6" textLength="143.46" lengthAdjust="spacingAndGlyphs">from</tspan></text>
<text y="258.3" font-size="57.97" font-weight="700" fill="#000" filter="url(#sh)" stroke="#000" stroke-width="0.64" stroke-linejoin="round"><tspan x="224.1" y="258.3" letter-spacing="0.229">existing</tspan> <tspan x="469.2" y="258.3" letter-spacing="0.167">properties</tspan></text>
<text y="243.4" font-size="58.64" font-weight="400" fill="#000"><tspan x="984.37" y="243.4" textLength="205.22" lengthAdjust="spacingAndGlyphs">Internal</tspan></text>
<text y="309.8" font-size="58.64" font-weight="400" fill="#000"><tspan x="988.3" y="309.8" letter-spacing="-0.5">Growth</tspan></text>
<text y="250.8" font-size="58.23" font-weight="400" fill="#000"><tspan x="1501.43" y="250.8" textLength="211.96" lengthAdjust="spacingAndGlyphs">External</tspan></text>
<text y="317.0" font-size="58.23" font-weight="400" fill="#000"><tspan x="1509.0" y="317.0" letter-spacing="-0.1">Growth</tspan></text>
<text y="282.1" font-size="52.65" font-weight="400" fill="#000"><tspan x="2053.41" y="282.1" textLength="114.75" lengthAdjust="spacingAndGlyphs">Total</tspan></text>
<text y="183.0" font-size="61.22" font-weight="700" fill="#000" filter="url(#sh)" stroke="#000" stroke-width="0.67" stroke-linejoin="round"><tspan x="1947.98" y="183.0" textLength="132.97" lengthAdjust="spacingAndGlyphs">EPU</tspan><tspan x="2071.54" y="179.17" font-size="49.33">・</tspan><tspan x="2110.52" y="183.0" textLength="140.86" lengthAdjust="spacingAndGlyphs">DPU</tspan></text>
<text y="431.0" font-size="52.3" font-weight="700" fill="#c00000" stroke="#c00000" stroke-width="0.58" stroke-linejoin="round"><tspan x="295.5" y="431.0" letter-spacing="-0.471">Increase</tspan> <tspan x="524.5" y="431.0" letter-spacing="0.4">of</tspan></text>
<text y="490.8" font-size="52.3" font-weight="700" fill="#c00000" stroke="#c00000" stroke-width="0.58" stroke-linejoin="round"><tspan x="311.47" y="490.8" textLength="78.37" lengthAdjust="spacingAndGlyphs">2%</tspan> <tspan x="404.7" y="490.8" letter-spacing="0.6">above</tspan></text>
<text y="431.1" font-size="53.33" font-weight="400" fill="#000"><tspan x="965.04" y="431.1" textLength="198.77" lengthAdjust="spacingAndGlyphs">Increase</tspan> <tspan x="1178.8" y="431.1" letter-spacing="-1.1">of</tspan></text>
<text y="491.0" font-size="52.97" font-weight="700" fill="#c00000" stroke="#c00000" stroke-width="0.58" stroke-linejoin="round"><tspan x="980.16" y="491.0" textLength="231.97" lengthAdjust="spacingAndGlyphs">2.0–2.5%</tspan></text>
<text y="431.0" font-size="53.06" font-weight="400" fill="#000"><tspan x="1472.08" y="431.0" textLength="200.0" lengthAdjust="spacingAndGlyphs">Increase</tspan> <tspan x="1685.7" y="431.0" letter-spacing="-1.2">of</tspan></text>
<text y="490.9" font-size="52.7" font-weight="700" fill="#c00000" stroke="#c00000" stroke-width="0.58" stroke-linejoin="round"><tspan x="1486.8" y="490.9" letter-spacing="-0.686">0.5–1.0%</tspan></text>
<text y="430.6" font-size="52.11" font-weight="400" fill="#000"><tspan x="1979.0" y="430.6" letter-spacing="-0.657">Increase</tspan> <tspan x="2192.8" y="430.6" letter-spacing="-0.6">of</tspan></text>
<text y="491.0" font-size="52.84" font-weight="700" fill="#c00000" stroke="#c00000" stroke-width="0.58" stroke-linejoin="round"><tspan x="1985.19" y="491.0" textLength="78.26" lengthAdjust="spacingAndGlyphs">3%</tspan> <tspan x="2078.1" y="491.0" letter-spacing="0.175">above</tspan></text>
<text y="646.6" font-size="41.08" font-weight="700" fill="#000" stroke="#000" stroke-width="0.45" stroke-linejoin="round"><tspan x="246.4" y="646.6" letter-spacing="-0.12">Future</tspan> <tspan x="390.3" y="646.6" letter-spacing="-1.0">EPU</tspan> <tspan x="483.4" y="646.6" letter-spacing="-0.5">and</tspan> <tspan x="570.21" y="646.6" textLength="91.51" lengthAdjust="spacingAndGlyphs">DPU</tspan> <tspan x="672.3" y="646.6" letter-spacing="0.2">Growth</tspan></text>
<text y="646.6" font-size="41.08" font-weight="700" fill="#000" stroke="#000" stroke-width="0.45" stroke-linejoin="round"><tspan x="852.0" y="646.6" letter-spacing="0.575">Image</tspan></text>
<text y="646.6" font-size="41.08" font-weight="700" fill="#000" stroke="#000" stroke-width="0.45" stroke-linejoin="round"><tspan x="978.1" y="646.6" letter-spacing="0.214">（annual）</tspan></text>
<text y="1010.6" font-size="30.34" font-weight="400" fill="#000"><tspan x="608.38" y="1010.6" textLength="61.38" lengthAdjust="spacingAndGlyphs">EPU</tspan><tspan x="668.49" y="1010.42" font-size="25.21">×</tspan><tspan x="693.78" y="1010.6" textLength="68.2" lengthAdjust="spacingAndGlyphs">10%</tspan></text>
<text y="1164.9" font-size="49.93" font-weight="400" fill="#000"><tspan x="640.9" y="1164.9" letter-spacing="0.6">EPU</tspan></text>
<text y="1171.9" font-size="49.8" font-weight="400" fill="#000"><tspan x="936.3" y="1171.9" letter-spacing="1.35">DPU</tspan></text>
<text y="802.6" font-size="31.16" font-weight="400" fill="#000"><tspan x="1531.3" y="802.6" letter-spacing="0.225">EPU</tspan><tspan x="1591.08" y="801.99" font-size="25.14">×</tspan><tspan x="1616.51" y="802.6" textLength="68.38" lengthAdjust="spacingAndGlyphs">10%</tspan></text>
<text y="1086.7" font-size="47.07" font-weight="400" fill="#000"><tspan x="1564.4" y="1086.7" textLength="87.77" lengthAdjust="spacingAndGlyphs">EPU</tspan></text>
<text y="1129.5" font-size="34.69" font-weight="400" fill="#000"><tspan x="1541.5" y="1129.5" letter-spacing="-0.371">Increase</tspan></text>
<text y="1169.4" font-size="34.69" font-weight="400" fill="#000"><tspan x="1561.2" y="1169.4" letter-spacing="0.2">of</tspan> <tspan x="1604.7" y="1169.4" letter-spacing="-1.4">3%</tspan></text>
<text y="1071.9" font-size="49.39" font-weight="400" fill="#000"><tspan x="1840.34" y="1071.9" textLength="105.98" lengthAdjust="spacingAndGlyphs">DPU</tspan></text>
<text y="1154.4" font-size="35.78" font-weight="400" fill="#000"><tspan x="1774.3" y="1154.4" textLength="132.85" lengthAdjust="spacingAndGlyphs">Increase</tspan> <tspan x="1918.12" y="1154.4" textLength="31.23" lengthAdjust="spacingAndGlyphs">of</tspan> <tspan x="1957.75" y="1154.4" letter-spacing="0.65">3%</tspan></text>
<text transform="translate(1172.6 1478.6) scale(0.93 1)" font-size="45.6" font-family="'Liberation Sans', Arial, sans-serif" fill="#000">20</text></svg>
</body></html>
